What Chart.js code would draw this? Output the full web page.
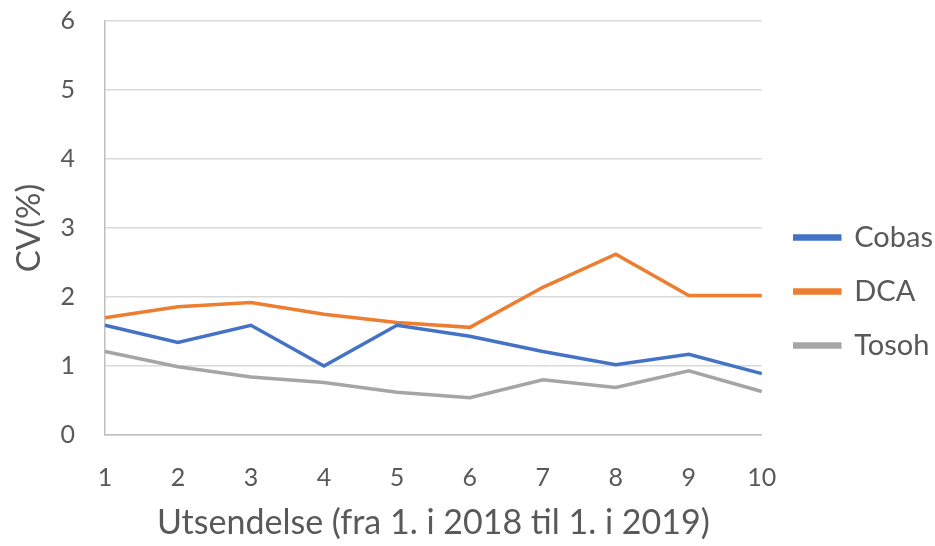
<!DOCTYPE html>
<html>
<head>
<meta charset="utf-8">
<script src="https://cdn.jsdelivr.net/npm/chart.js@4/dist/chart.umd.min.js"></script>
<style>
  html, body { margin: 0; padding: 0; background: #fff; }
  #wrap { width: 935px; height: 546px; }
</style>
</head>
<body>
<div id="wrap"><canvas id="cvChart" width="935" height="546"></canvas></div>
<script>
const utsendelser = ['1', '2', '3', '4', '5', '6', '7', '8', '9', '10'];
const cobas = [1.59, 1.34, 1.59, 1.00, 1.59, 1.43, 1.21, 1.02, 1.17, 0.89];
const dca = [1.70, 1.86, 1.92, 1.75, 1.63, 1.56, 2.14, 2.62, 2.02, 2.02];
const tosoh = [1.21, 0.99, 0.84, 0.76, 0.62, 0.54, 0.80, 0.69, 0.93, 0.63];

const tekstFarge = '#595959';
const fontFamily = 'Lato, "Open Sans", sans-serif';

// flytter legenden litt til høyre etter layout (som i Excel-figuren)
const legendeForskyvning = {
  id: 'legendeForskyvning',
  afterLayout(chart) {
    chart.legend.left += 8;
    chart.legend.right += 8;
  }
};

const ctx = document.getElementById('cvChart').getContext('2d');

new Chart(ctx, {
  type: 'line',
  data: {
    labels: utsendelser,
    datasets: [
      { label: 'Cobas', data: cobas, borderColor: '#4472C4', backgroundColor: '#4472C4' },
      { label: 'DCA', data: dca, borderColor: '#ED7D31', backgroundColor: '#ED7D31' },
      { label: 'Tosoh', data: tosoh, borderColor: '#A5A5A5', backgroundColor: '#A5A5A5' }
    ]
  },
  plugins: [legendeForskyvning],
  options: {
    responsive: false,
    animation: false,
    elements: {
      line: { borderWidth: 3.5, tension: 0 },
      point: { radius: 0 }
    },
    layout: { autoPadding: false, padding: { left: 10, right: 0, top: 21, bottom: 2 } },
    scales: {
      x: {
        offset: false,
        grid: { display: false, drawTicks: false },
        border: { display: true, color: '#BFBFBF', width: 1.5 },
        ticks: { color: tekstFarge, font: { family: fontFamily, size: 25 }, padding: 28, maxRotation: 0 },
        title: {
          display: true,
          text: 'Utsendelse (fra 1. i 2018 til 1. i 2019)',
          color: tekstFarge,
          font: { family: fontFamily, size: 34 },
          padding: { top: 0, bottom: 1 }
        },
        afterFit: (scale) => {
          scale.height = 109;
          scale.paddingLeft = 0;
          scale.paddingRight = 0;
        }
      },
      y: {
        min: 0,
        max: 6,
        grid: { color: '#D9D9D9', lineWidth: 1.5, drawTicks: false },
        border: { display: true, color: '#BFBFBF', width: 1.5 },
        ticks: { stepSize: 1, color: tekstFarge, font: { family: fontFamily, size: 25 }, padding: 30 },
        title: {
          display: true,
          text: 'CV(%)',
          color: tekstFarge,
          font: { family: fontFamily, size: 33 },
          padding: { top: 0, bottom: 0 }
        },
        afterFit: (scale) => {
          scale.width = 95;
          scale.paddingTop = 0;
          scale.paddingBottom = 0;
        }
      }
    },
    plugins: {
      legend: {
        position: 'right',
        title: { display: true, text: ' ', padding: 3, font: { size: 10 } },
        labels: {
          color: tekstFarge,
          font: { family: fontFamily, size: 29 },
          boxWidth: 45,
          boxHeight: 3,
          padding: 25
        }
      },
      tooltip: { enabled: false }
    }
  }
});
</script>
</body>
</html>
